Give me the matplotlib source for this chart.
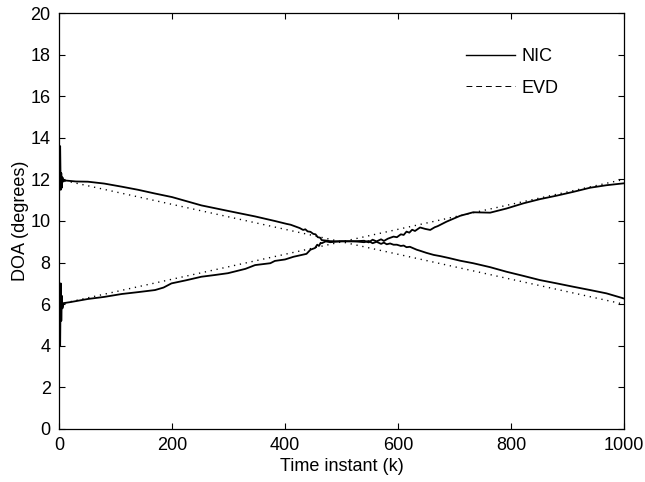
import matplotlib
matplotlib.use("Agg")
import matplotlib.pyplot as plt
from matplotlib.lines import Line2D

plt.rcParams["font.family"] = ["Liberation Sans", "DejaVu Sans"]

# EVD estimates: straight tracks (endpoints only)
evd_k = [0, 1000]
evd_upper = [12.0, 6.0]
evd_lower = [6.0, 12.0]

# NIC estimates
nic_k_upper = [0, 2, 3, 4, 5, 6, 8, 10, 30, 51, 80, 111, 140, 170, 200, 252,
               300, 347, 382, 403, 410, 420, 426, 432, 436, 440, 445, 450, 454,
               458, 462, 465, 472, 480, 500, 520, 540, 548, 555, 562, 570, 575,
               580, 586, 592, 598, 605, 610, 615, 621, 627, 633, 640, 650, 663,
               675, 690, 710, 733, 763, 792, 822, 851, 881, 910, 940, 969, 999]
nic_upper = [12.0, 13.6, 11.5, 12.3, 11.6, 12.1, 11.9, 11.95, 11.9, 11.89,
             11.8, 11.65, 11.5, 11.32, 11.15, 10.75, 10.48, 10.22, 10.0, 9.86,
             9.82, 9.72, 9.66, 9.57, 9.6, 9.5, 9.48, 9.38, 9.36, 9.22, 9.2,
             9.08, 9.06, 9.03, 9.02, 9.03, 8.98, 9.04, 8.93, 9.0, 8.9, 8.96,
             8.88, 8.92, 8.86, 8.86, 8.8, 8.82, 8.74, 8.76, 8.69, 8.62, 8.56,
             8.47, 8.37, 8.31, 8.22, 8.09, 7.97, 7.78, 7.56, 7.36, 7.16, 7.0,
             6.84, 6.68, 6.52, 6.28]
nic_k_lower = [0, 2, 3, 4, 5, 6, 8, 20, 51, 80, 111, 140, 170, 185, 199, 225,
               252, 275, 299, 330, 347, 374, 382, 400, 415, 438, 445, 453, 457,
               460, 463, 465, 472, 480, 500, 520, 540, 548, 555, 562, 570, 575,
               582, 592, 598, 605, 610, 615, 620, 625, 630, 639, 648, 657, 665,
               670, 686, 710, 733, 763, 792, 822, 851, 881, 910, 940, 969, 999]
nic_lower = [6.0, 4.0, 7.0, 5.2, 6.4, 5.8, 6.05, 6.1, 6.25, 6.35, 6.49, 6.58,
             6.68, 6.8, 7.0, 7.15, 7.32, 7.4, 7.49, 7.7, 7.88, 7.97, 8.08, 8.15,
             8.28, 8.42, 8.62, 8.7, 8.86, 8.8, 8.95, 8.93, 9.02, 8.98, 9.03,
             9.02, 9.05, 8.97, 9.1, 9.02, 9.12, 9.04, 9.15, 9.25, 9.22, 9.36,
             9.33, 9.49, 9.44, 9.58, 9.52, 9.69, 9.62, 9.57, 9.7, 9.75, 9.97,
             10.25, 10.42, 10.4, 10.6, 10.85, 11.05, 11.22, 11.4, 11.6, 11.72,
             11.81]

fig = plt.figure(figsize=(6.45, 4.82), dpi=100)
ax = fig.add_axes([0.0915, 0.110, 0.876, 0.863])

ax.plot(nic_k_upper, nic_upper, color="black", linewidth=1.3)
ax.plot(nic_k_lower, nic_lower, color="black", linewidth=1.3)
ax.plot(evd_k, evd_upper, color="black", linewidth=1.0, dashes=(0.9, 3.4))
ax.plot(evd_k, evd_lower, color="black", linewidth=1.0, dashes=(0.9, 3.4))

ax.set_xlim(0, 1000)
ax.set_ylim(0, 20)
ax.set_xticks(range(0, 1001, 200))
ax.set_yticks(range(0, 21, 2))
ax.tick_params(direction="in", top=True, right=True, length=4, width=0.8,
               labelsize=13, pad=6)
for s in ax.spines.values():
    s.set_linewidth(0.9)

ax.set_xlabel("Time instant (k)", fontsize=13, labelpad=3)
ax.set_ylabel("DOA (degrees)", fontsize=13, labelpad=1)

handles = [Line2D([], [], color="black", linewidth=1.0),
           Line2D([], [], color="black", linewidth=0.7, dashes=(6, 4))]
ax.legend(handles, ["NIC", "EVD"], loc="upper left", frameon=False,
          bbox_to_anchor=(0.72, 0.915), borderpad=0, borderaxespad=0,
          handlelength=2.7, handletextpad=0.4, labelspacing=0.8,
          fontsize=13)

fig.savefig("out.png", dpi=100)
